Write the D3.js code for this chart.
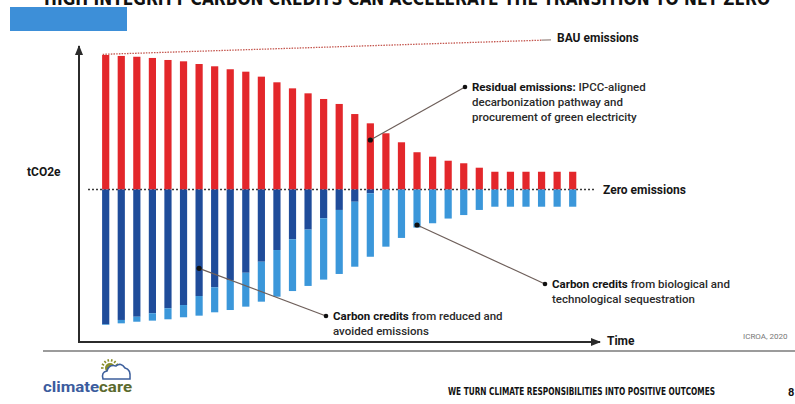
<!DOCTYPE html>
<html>
<head>
<meta charset="utf-8">
<script src="https://cdn.jsdelivr.net/npm/d3@7"></script>
<style>
  html, body { margin: 0; padding: 0; background: #ffffff; }
  svg { display: block; font-family: Roboto, "Open Sans", "Noto Sans", sans-serif; }
</style>
</head>
<body>
<svg id="chart" width="795" height="404"></svg>
<script>
// Years on the time axis (not labelled on the chart)
const years = [2020, 2021, 2022, 2023, 2024, 2025, 2026, 2027, 2028, 2029, 2030,
               2031, 2032, 2033, 2034, 2035, 2036, 2037, 2038, 2039, 2040,
               2041, 2042, 2043, 2044, 2045, 2046, 2047, 2048, 2049, 2050];

// Residual emissions after decarbonization (indexed tCO2e, first year = 100)
const residual = [100, 99.3, 98.7, 97.8, 96.3, 95.3, 93.3, 91.6, 89.4, 87.6, 83.9,
                  79.7, 75.2, 71.5, 67.3, 63.6, 56.1, 49.2, 41.8, 35.1, 27.7,
                  24.4, 21.4, 19.5, 16.2, 13.2, 13.2, 13.2, 13.2, 13.2, 13.2];

// Credits from reduced and avoided emissions
const avoidedCredits = [100.2, 97.0, 94.6, 92.0, 88.3, 85.9, 79.2, 72.7, 67.3, 61.9, 53.7,
                        45.0, 37.0, 29.8, 21.4, 15.2, 9.1, 2.8, 0, 0, 0,
                        0, 0, 0, 0, 0, 0, 0, 0, 0, 0];

// Credits from biological and technological sequestration
const removalCredits = [0.5, 2.5, 3.7, 5.5, 8.2, 9.1, 14.6, 18.6, 22.3, 25.2, 29.7,
                        34.7, 38.5, 41.9, 45.6, 47.6, 48.3, 47.2, 42.5, 36.0, 28.3,
                        25.1, 21.6, 19.0, 15.2, 12.8, 12.8, 12.8, 12.8, 12.8, 12.8];

// Business-as-usual emissions trend (start and end of the drawn line)
const bauYears = [2020, 2048];
const bauValues = [100.5, 111];

const colors = { residual: "#e3272b", avoided: "#1f4c9a", removal: "#3b97da" };

const svg = d3.select("#chart");

const x = d3.scalePoint().domain(years).range([105.7, 572.7]);
const barW = 7.2;
const y = d3.scaleLinear().domain([-100, 100]).range([324, 55]);

// Page header (cropped title strip)
svg.append("rect").attr("x", 10).attr("y", 7).attr("width", 117).attr("height", 24)
  .attr("fill", "#3d8fd8");
svg.append("text")
  .attr("x", 44).attr("y", 5)
  .attr("font-family", "'Liberation Sans Narrow', 'DejaVu Sans Condensed', sans-serif")
  .attr("font-weight", 700).attr("font-size", 17)
  .attr("textLength", 726).attr("lengthAdjust", "spacingAndGlyphs")
  .attr("fill", "#111")
  .text("HIGH INTEGRITY CARBON CREDITS CAN ACCELERATE THE TRANSITION TO NET ZERO");

// Zero-emissions reference line
svg.append("line")
  .attr("x1", 88).attr("x2", 596).attr("y1", y(0)).attr("y2", y(0))
  .attr("stroke", "#3a3a3a").attr("stroke-width", 1.3).attr("stroke-dasharray", "2,2");

// Stacked bars: residual above zero, credits below
const table = years.map((yr, i) => ({
  year: yr,
  residual: residual[i],
  avoided: -avoidedCredits[i],
  removal: -removalCredits[i]
}));
const series = d3.stack()
  .keys(["residual", "avoided", "removal"])
  .offset(d3.stackOffsetDiverging)(table);

svg.append("g").selectAll("g")
  .data(series).join("g")
  .attr("fill", d => colors[d.key])
  .selectAll("rect")
  .data(d => d).join("rect")
  .attr("x", d => x(d.data.year) - barW / 2)
  .attr("width", barW)
  .attr("y", d => y(Math.max(d[0], d[1])))
  .attr("height", d => Math.abs(y(d[0]) - y(d[1])));

// BAU emissions line
svg.append("line")
  .attr("x1", x(bauYears[0]) - 3).attr("y1", y(bauValues[0]))
  .attr("x2", x(bauYears[1])).attr("y2", y(bauValues[1]))
  .attr("stroke", "#c4574f").attr("stroke-width", 1.3).attr("stroke-dasharray", "1.5,1.2");
svg.append("line")
  .attr("x1", x(bauYears[1])).attr("y1", y(bauValues[1]))
  .attr("x2", 551).attr("y2", y(bauValues[1]) - 0.3)
  .attr("stroke", "#9a8a84").attr("stroke-width", 1.2);

// Axes with arrow heads
const defs = svg.append("defs");
defs.append("marker").attr("id", "arrow")
  .attr("viewBox", "0 0 10 10").attr("refX", 9).attr("refY", 5)
  .attr("markerWidth", 5).attr("markerHeight", 5).attr("orient", "auto")
  .append("path").attr("d", "M0,1 L10,5 L0,9 Z").attr("fill", "#2b2b2b");

svg.append("line")
  .attr("x1", 79).attr("y1", 343).attr("x2", 79).attr("y2", 46)
  .attr("stroke", "#2b2b2b").attr("stroke-width", 2).attr("marker-end", "url(#arrow)");
svg.append("line")
  .attr("x1", 78).attr("y1", 342).attr("x2", 600).attr("y2", 342)
  .attr("stroke", "#2b2b2b").attr("stroke-width", 2).attr("marker-end", "url(#arrow)");

// Axis and reference labels
const label = (tx, ty, txt, size = 12) => svg.append("text")
  .attr("x", tx).attr("y", ty).attr("font-weight", 700).attr("font-size", size)
  .attr("fill", "#161616").text(txt);
label(27, 176, "tCO2e");
label(603, 194, "Zero emissions");
label(607, 345, "Time");
label(557, 42, "BAU emissions");

svg.append("text").attr("x", 743).attr("y", 339).attr("font-size", 8)
  .attr("fill", "#777").text("ICROA, 2020");

// Annotations with leader lines
function annotate(year, value, tx, ty, lines) {
  const ax = x(year), ay = y(value);
  svg.append("line").attr("x1", ax).attr("y1", ay).attr("x2", tx).attr("y2", ty)
    .attr("stroke", "#6e5f5a").attr("stroke-width", 1.2);
  svg.append("circle").attr("cx", ax).attr("cy", ay).attr("r", 2.6).attr("fill", "#111");
  svg.append("circle").attr("cx", tx).attr("cy", ty).attr("r", 2.3).attr("fill", "#111");
  const t = svg.append("text").attr("font-size", 11.5).attr("fill", "#222");
  lines.forEach((ln, i) => {
    const row = t.append("tspan").attr("x", tx + 7).attr("y", ty + 4 + i * 15);
    ln.forEach(([s, bold]) => row.append("tspan")
      .attr("font-weight", bold ? 700 : 500)
      .attr("fill", bold ? "#141414" : "#2a2a2a")
      .text(s));
  });
}

annotate(2037, 36.8, 465, 87, [
  [["Residual emissions:", true], [" IPCC-aligned", false]],
  [["decarbonization pathway and", false]],
  [["procurement of green electricity", false]]
]);
annotate(2040, -26.4, 545, 284, [
  [["Carbon credits", true], [" from biological and", false]],
  [["technological sequestration", false]]
]);
annotate(2026, -58.6, 326, 316, [
  [["Carbon credits", true], [" from reduced and", false]],
  [["avoided emissions", false]]
]);

// Footer
svg.append("line").attr("x1", 43).attr("x2", 795).attr("y1", 351).attr("y2", 351)
  .attr("stroke", "#7a7a7a").attr("stroke-width", 1.4);

const logo = svg.append("g");
// sun with rays
logo.append("circle").attr("cx", 110).attr("cy", 368).attr("r", 5).attr("fill", "#8a8f2a");
d3.range(8).forEach(k => {
  const a = Math.PI + k * Math.PI / 7;
  logo.append("line")
    .attr("x1", 110 + Math.cos(a) * 6.5).attr("y1", 368 + Math.sin(a) * 6.5)
    .attr("x2", 110 + Math.cos(a) * 9).attr("y2", 368 + Math.sin(a) * 9)
    .attr("stroke", "#8a8f2a").attr("stroke-width", 1.6);
});
// cloud outline
logo.append("path")
  .attr("d", "M103,379 Q101,372 107,371 Q109,364 116,366 Q121,362 125,368 Q131,369 130,379 Z")
  .attr("fill", "#ffffff").attr("stroke", "#3d5f9c").attr("stroke-width", 1.6);
const brand = svg.append("text").attr("x", 43).attr("y", 392)
  .attr("font-size", 15.5).attr("font-weight", 700).attr("textLength", 89)
  .attr("lengthAdjust", "spacingAndGlyphs");
brand.append("tspan").attr("fill", "#3b5c9e").text("climate");
brand.append("tspan").attr("fill", "#5b6a2e").text("care");

svg.append("text").attr("x", 448).attr("y", 395)
  .attr("font-family", "'Liberation Sans Narrow', 'DejaVu Sans Condensed', sans-serif")
  .attr("font-weight", 700).attr("font-size", 10.5)
  .attr("textLength", 267).attr("lengthAdjust", "spacingAndGlyphs")
  .attr("fill", "#111")
  .text("WE TURN CLIMATE RESPONSIBILITIES INTO POSITIVE OUTCOMES");
svg.append("text").attr("x", 788).attr("y", 396).attr("font-weight", 700)
  .attr("font-size", 11).attr("fill", "#111").text("8");
</script>
</body>
</html>
